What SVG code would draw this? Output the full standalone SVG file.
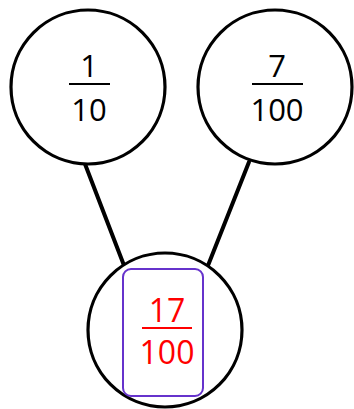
<svg xmlns="http://www.w3.org/2000/svg" width="354" height="409" viewBox="0 0 354 409">
<style>
.node{fill:#fff;stroke:#000;stroke-width:3.2}
.t{font-family:"Open Sans","Noto Sans","DejaVu Sans",sans-serif;font-size:31px;text-anchor:middle;fill:#000}
.bar{stroke:#000;stroke-width:2}
.red .t{fill:#f00;font-size:32px}
.red .bar{stroke:#f00}
</style>
<g id="connectors" stroke="#000" stroke-width="4" stroke-linecap="round">
<line x1="85" y1="164" x2="125" y2="268"/>
<line x1="249" y1="162" x2="207" y2="268"/>
</g>
<g id="node-left">
<circle class="node" cx="88" cy="87" r="77"/>
<text class="t" x="89" y="77">1</text>
<line class="bar" x1="69" y1="84" x2="110" y2="84"/>
<text class="t" x="89" y="121">10</text>
</g>
<g id="node-right">
<circle class="node" cx="275" cy="87" r="77"/>
<text class="t" x="277" y="77">7</text>
<line class="bar" x1="252" y1="84" x2="303" y2="84"/>
<text class="t" x="277" y="121">100</text>
</g>
<g id="node-bottom" class="red">
<circle class="node" cx="165" cy="330" r="77"/>
<rect x="123" y="269" width="80" height="127" rx="8" fill="none" stroke="#6633cc" stroke-width="2"/>
<text class="t" x="167" y="322">17</text>
<line class="bar" x1="142" y1="328" x2="192" y2="328"/>
<text class="t" x="167" y="364">100</text>
</g>
</svg>
